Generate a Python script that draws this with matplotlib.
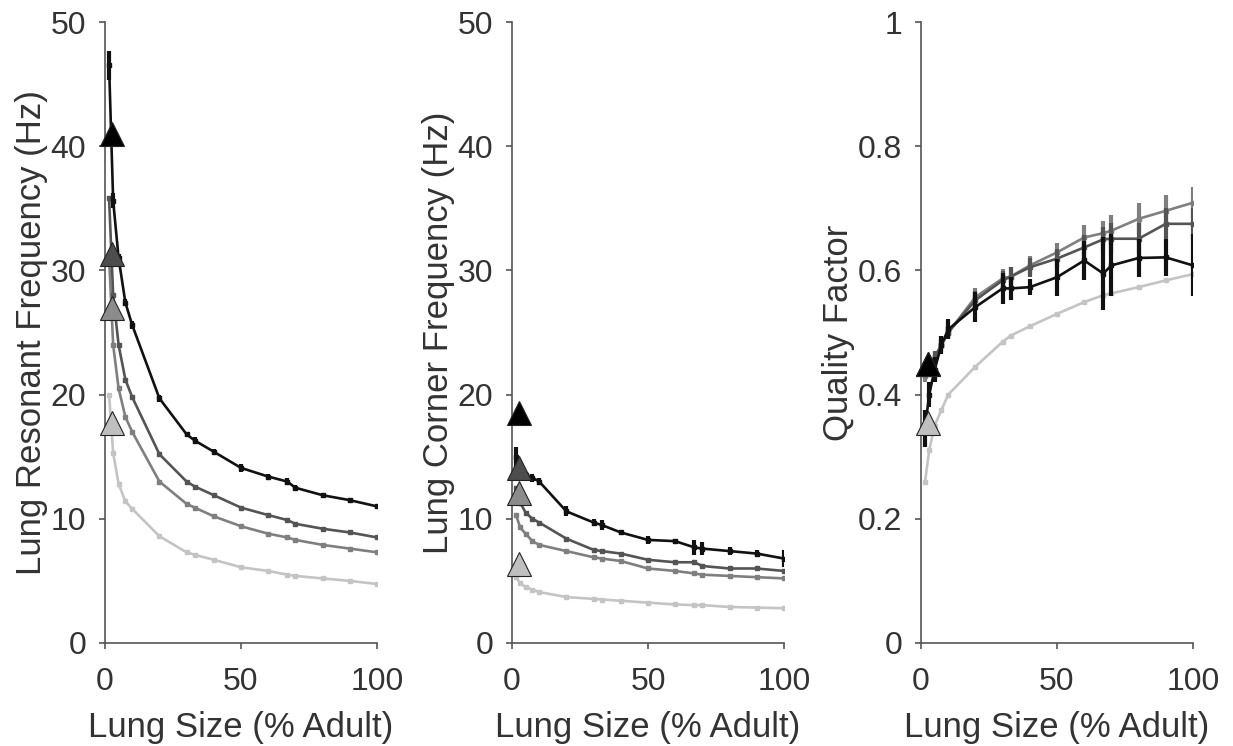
import matplotlib
matplotlib.use("Agg")
import matplotlib.pyplot as plt

plt.rcParams['font.family'] = ['Liberation Sans', 'DejaVu Sans']

# lung size (% adult) sampled for every curve
sizes = [1.5, 3, 5, 7.5, 10, 20, 30, 33, 40, 50, 60, 67, 70, 80, 90, 100]
tri_x = 2.5

# left: resonant frequency (Hz)
res_black = [46.5, 35.6, 31, 27.4, 25.6, 19.7, 16.8, 16.3, 15.4, 14.1, 13.4, 13.0, 12.5, 11.9, 11.5, 11.0]
res_dark = [35.8, 28, 24, 21.2, 19.8, 15.2, 13.0, 12.6, 11.9, 10.9, 10.3, 9.9, 9.6, 9.2, 8.9, 8.5]
res_mid = [31, 24, 20.5, 18.2, 17.0, 13.0, 11.2, 10.9, 10.2, 9.4, 8.8, 8.5, 8.3, 7.9, 7.6, 7.3]
res_light = [20, 15.3, 12.8, 11.4, 10.8, 8.6, 7.3, 7.1, 6.7, 6.1, 5.8, 5.5, 5.4, 5.2, 5.0, 4.75]
res_black_err = [1.2, 0.6, 0.3, 0.3, 0.3, 0.3, 0.2, 0.3, 0.2, 0.3, 0.2, 0.3, 0.2, 0.2, 0.2, 0.2]
res_tri = [41.0, 31.3, 27.0, 17.7]

# middle: corner frequency (Hz)
cor_black = [15.0, 13.8, 13.5, 13.3, 13.0, 10.6, 9.7, 9.5, 8.9, 8.3, 8.2, 7.7, 7.6, 7.4, 7.2, 6.8]
cor_dark = [12.5, 11.3, 10.5, 10.0, 9.7, 8.4, 7.5, 7.4, 7.2, 6.7, 6.5, 6.5, 6.2, 6.0, 6.0, 5.8]
cor_mid = [10.3, 9.3, 8.8, 8.2, 7.9, 7.4, 6.9, 6.8, 6.6, 6.0, 5.8, 5.6, 5.5, 5.4, 5.3, 5.2]
cor_light = [5.3, 4.8, 4.5, 4.3, 4.1, 3.7, 3.55, 3.5, 3.4, 3.25, 3.1, 3.05, 3.05, 2.9, 2.85, 2.8]
cor_black_err = [0.8, 0.3, 0.3, 0.3, 0.3, 0.4, 0.3, 0.4, 0.2, 0.3, 0.2, 0.6, 0.5, 0.3, 0.3, 0.7]
cor_tri = [18.5, 14.1, 12.1, 6.4]

# right: quality factor
q_black = [0.345, 0.40, 0.44, 0.48, 0.505, 0.541, 0.571, 0.571, 0.573, 0.589, 0.616, 0.595, 0.608, 0.62, 0.621, 0.608]
q_dark = [0.44, 0.45, 0.46, 0.48, 0.50, 0.552, 0.584, 0.59, 0.605, 0.619, 0.637, 0.65, 0.651, 0.651, 0.675, 0.675]
q_mid = [0.43, 0.44, 0.46, 0.48, 0.50, 0.557, 0.587, 0.59, 0.608, 0.629, 0.653, 0.66, 0.664, 0.683, 0.696, 0.709]
q_light = [0.26, 0.31, 0.35, 0.375, 0.40, 0.445, 0.485, 0.495, 0.51, 0.53, 0.549, 0.56, 0.563, 0.573, 0.584, 0.594]
q_black_err = [0.03, 0.02, 0.02, 0.015, 0.016, 0.024, 0.025, 0.018, 0.013, 0.03, 0.032, 0.058, 0.05, 0.03, 0.03, 0.05]
q_gray_err = [0.01, 0.01, 0.01, 0.01, 0.01, 0.015, 0.015, 0.015, 0.015, 0.015, 0.02, 0.02, 0.025, 0.025, 0.025, 0.025]
q_tri = [0.45, 0.45, 0.45, 0.355]

line_cols = ['#111111', '#545454', '#7f7f7f', '#c4c4c4']
tri_cols = ['#000000', '#4d4d4d', '#8c8c8c', '#bfbfbf']

fig = plt.figure(figsize=(12.33, 7.46), dpi=100)
lefts = [105 / 1233, 512 / 1233, 921 / 1233]
axes = [fig.add_axes([l, 103 / 746, 272 / 1233, 621 / 746]) for l in lefts]

panels = [
    (axes[0], [res_black, res_dark, res_mid, res_light], res_black_err, None, res_tri,
     'Lung Resonant Frequency (Hz)', 50),
    (axes[1], [cor_black, cor_dark, cor_mid, cor_light], cor_black_err, None, cor_tri,
     'Lung Corner Frequency (Hz)', 50),
    (axes[2], [q_black, q_dark, q_mid, q_light], q_black_err, q_gray_err, q_tri,
     'Quality Factor', 1),
]

for ax, series, berr, gerr, tris, ylab, ymax in panels:
    # draw light first so black ends on top
    for i in [3, 2, 1, 0]:
        err = berr if i == 0 else (gerr if (gerr is not None and i in (1, 2)) else None)
        ax.errorbar(sizes, series[i], yerr=err, color=line_cols[i], lw=1.9,
                    marker='s', ms=2.8, elinewidth=3, capsize=0, zorder=3 + (3 - i))
    for i in [3, 2, 1, 0]:
        ax.plot(tri_x, tris[i], marker='^', ms=17, mfc=tri_cols[i], mec='#222222',
                mew=0.8, ls='none', zorder=10 + (3 - i), clip_on=False)
    ax.set_xlim(0, 100)
    ax.set_ylim(0, ymax)
    ax.set_xticks([0, 50, 100])
    for s in ['top', 'right']:
        ax.spines[s].set_visible(False)
    for s in ['left', 'bottom']:
        ax.spines[s].set_color('#555555')
        ax.spines[s].set_linewidth(1.2)
    ax.tick_params(colors='#555555', labelcolor='#333333', labelsize=23, length=4.5, width=1.2)
    ax.tick_params(axis='x', pad=13)
    ax.tick_params(axis='y', pad=9)
    ax.set_xlabel('Lung Size (% Adult)', fontsize=25, color='#333333', labelpad=10)
    ax.set_ylabel(ylab, fontsize=25, color='#333333', labelpad=2)

axes[0].set_yticks([0, 10, 20, 30, 40, 50])
axes[1].set_yticks([0, 10, 20, 30, 40, 50])
axes[2].set_yticks([0, 0.2, 0.4, 0.6, 0.8, 1])
axes[2].set_yticklabels(['0', '0.2', '0.4', '0.6', '0.8', '1'])

fig.savefig('out.png', dpi=100)
